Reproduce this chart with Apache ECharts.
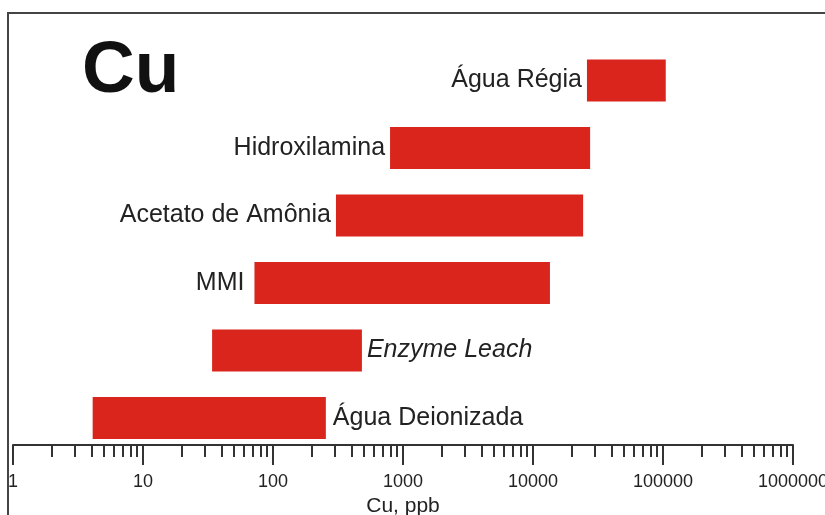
<!DOCTYPE html>
<html>
<head>
<meta charset="utf-8">
<script src="https://cdn.jsdelivr.net/npm/echarts@6/dist/echarts.min.js"></script>
<style>
  html, body { margin: 0; padding: 0; background: #ffffff; }
  #chart { width: 825px; height: 515px; }
</style>
</head>
<body>
<div id="chart"></div>
<script>
// ---- data ----
const categories = ['Água Deionizada', 'Enzyme Leach', 'MMI', 'Acetato de Amônia', 'Hidroxilamina', 'Água Régia'];
const rangeStart = [4.1, 34, 72, 305, 795, 26000];
const rangeEnd = [255, 483, 13500, 24300, 27500, 105000];
const majorTicks = [1, 10, 100, 1000, 10000, 100000, 1000000];
const minorMultipliers = [2, 3, 4, 5, 6, 7, 8, 9];
const elementLabel = 'Cu';
const axisName = 'Cu, ppb';

// ---- style config ----
const labelOnRight = { 'Água Deionizada': true, 'Enzyme Leach': true };
const italicLabel = { 'Enzyme Leach': true };
const labelGap = { 'MMI': 10, 'Água Deionizada': 7 };
const BAR = '#d9251c';
const TXT = '#222222';
const FONT = 'Liberation Sans, Arial, sans-serif';

const minorTicks = [];
for (let k = 0; k < majorTicks.length - 1; k++) {
  minorMultipliers.forEach(m => minorTicks.push(m * majorTicks[k]));
}

const seriesData = categories.map((c, i) => [i, rangeStart[i], rangeEnd[i]]);

const chart = echarts.init(document.getElementById('chart'), null, { renderer: 'canvas' });

const option = {
  animation: false,
  backgroundColor: '#ffffff',
  grid: { left: 13, right: 32, top: 13, bottom: 70, containLabel: false, outerBoundsMode: 'none' },
  xAxis: [
    {
      type: 'log', logBase: 10, min: 1, max: 1000000,
      name: axisName, nameLocation: 'middle', nameGap: 47,
      nameTextStyle: { fontFamily: FONT, fontSize: 21, color: TXT },
      axisLine: { show: true, onZero: false, lineStyle: { color: '#333', width: 2 } },
      axisTick: { show: true, length: 20, inside: false, customValues: majorTicks, lineStyle: { color: '#333', width: 2 } },
      axisLabel: { show: true, customValues: majorTicks, margin: 28, fontFamily: FONT, fontSize: 18, color: TXT,
                   hideOverlap: false, showMinLabel: true, showMaxLabel: true,
                   formatter: v => String(Math.round(v)) },
      splitLine: { show: false }
    },
    {
      type: 'log', logBase: 10, min: 1, max: 1000000, position: 'bottom', offset: 0,
      axisLine: { show: false, onZero: false },
      axisTick: { show: true, length: 12, inside: false, customValues: minorTicks, lineStyle: { color: '#333', width: 2 } },
      axisLabel: { show: false },
      splitLine: { show: false }
    }
  ],
  yAxis: {
    type: 'value', min: -0.4, max: 6.0, show: false
  },
  graphic: [
    {
      type: 'polyline', silent: true,
      shape: { points: [[8, 520], [8, 13], [830, 13]] },
      style: { stroke: '#444', lineWidth: 2, fill: null }
    },
    {
      type: 'text', silent: true, x: 82, y: 72,
      style: { text: elementLabel, font: 'bold 73px ' + FONT, fill: '#111', align: 'left', verticalAlign: 'middle' }
    }
  ],
  series: [
    {
      type: 'custom',
      xAxisIndex: 0, yAxisIndex: 0,
      data: seriesData,
      renderItem: function (params, api) {
        const i = api.value(0);
        const s = api.value(1), e = api.value(2);
        const a = api.coord([s, i + 0.31]);
        const b = api.coord([e, i - 0.31]);
        const mid = api.coord([s, i])[1];
        const name = categories[i];
        const right = !!labelOnRight[name];
        const gap = labelGap[name] || 5;
        return {
          type: 'group',
          children: [
            {
              type: 'rect',
              shape: { x: a[0], y: a[1], width: b[0] - a[0], height: b[1] - a[1] },
              style: { fill: BAR }
            },
            {
              type: 'text',
              style: {
                text: name,
                x: right ? b[0] + gap : a[0] - gap,
                y: mid,
                align: right ? 'left' : 'right',
                verticalAlign: 'middle',
                font: (italicLabel[name] ? 'italic ' : '') + '25px ' + FONT,
                fill: TXT
              }
            }
          ]
        };
      }
    }
  ]
};
chart.setOption(option);
</script>
</body>
</html>
